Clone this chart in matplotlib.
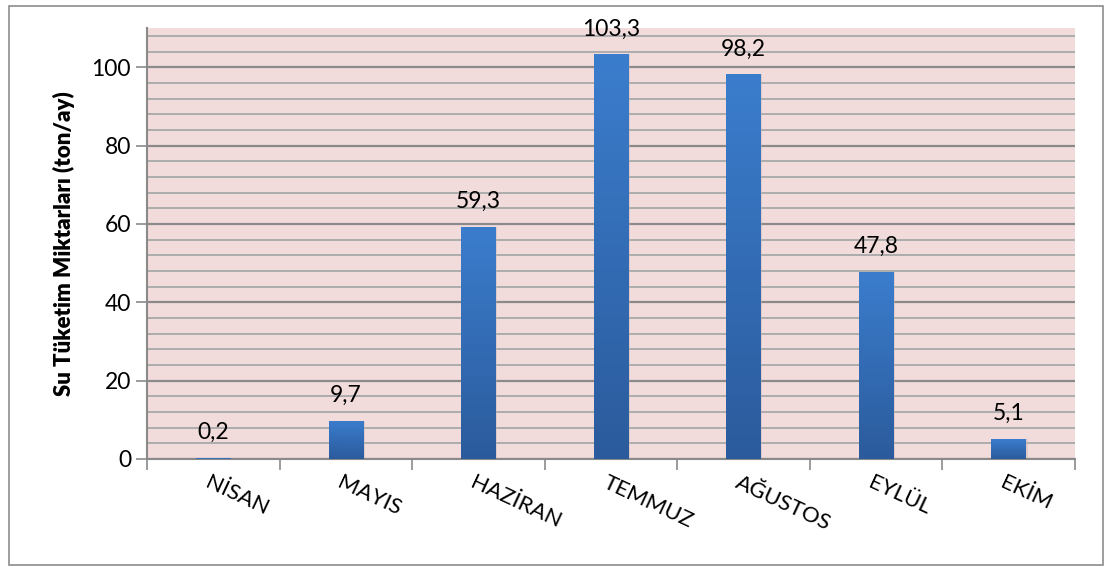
import numpy as np
import matplotlib.pyplot as plt
from matplotlib.patches import Rectangle
from matplotlib.ticker import MultipleLocator
from matplotlib.colors import LinearSegmentedColormap

months = ['NİSAN', 'MAYIS', 'HAZİRAN', 'TEMMUZ', 'AĞUSTOS', 'EYLÜL', 'EKİM']
values = [0.2, 9.7, 59.3, 103.3, 98.2, 47.8, 5.1]
labels = ['0,2', '9,7', '59,3', '103,3', '98,2', '47,8', '5,1']

plt.rcParams['font.family'] = ['Lato', 'DejaVu Sans']

fig = plt.figure(figsize=(11.12, 5.72), dpi=100)
fig.patches.append(Rectangle((0.008, 0.012), 0.984, 0.978, transform=fig.transFigure,
                             fill=False, edgecolor='#8c8c8c', linewidth=1.2))
ax = fig.add_axes([0.1322, 0.1976, 0.8345, 0.7534])
ax.set_facecolor('#f2dcdb')

x = np.arange(len(months))
bars = ax.bar(x, values, width=0.26, color='#3a78c6', zorder=3)
ax.set_xlim(-0.5, len(months) - 0.5)
ax.set_ylim(0, 110)

# gradient fill
grad = np.linspace(0, 1, 256).reshape(-1, 1)
cmap = LinearSegmentedColormap.from_list('g', ['#2b5b9c', '#3b7dcd'])
for b in bars:
    bx, bw, bh = b.get_x(), b.get_width(), b.get_height()
    # shadow
    ax.add_patch(Rectangle((bx + 0.012, 0), bw, bh, color='#c9b5b5', alpha=0.45,
                           linewidth=0, zorder=2))
    im = ax.imshow(grad, extent=[bx, bx + bw, 0, bh], origin='lower', cmap=cmap,
                   aspect='auto', zorder=3)
    b.set_alpha(0)
    im.set_clip_path(b)

for xi, v, lab in zip(x, values, labels):
    ax.text(xi, v + 3.8, lab, ha='center', va='bottom', fontsize=16.5)

ax.yaxis.set_major_locator(MultipleLocator(20))
ax.yaxis.set_minor_locator(MultipleLocator(4))
ax.grid(which='major', axis='y', color='#8a8a8a', linewidth=1.6, zorder=1)
ax.grid(which='minor', axis='y', color='#acacac', linewidth=1.4, zorder=1)
ax.set_axisbelow(True)

ax.set_xticks(np.arange(-0.5, len(months) + 0.5, 1))
ax.set_xticklabels([])
ax.tick_params(axis='x', length=8, color='#8a8a8a', width=1.2)
ax.tick_params(axis='y', which='major', length=8, color='#8a8a8a', width=1.2, labelsize=16.5)
ax.tick_params(axis='y', which='minor', length=0)

for i, m in enumerate(months):
    ax.text(i - 0.02, -3.5, m, rotation=-25, rotation_mode='anchor', ha='left', va='top',
            fontsize=16)

for s in ['top', 'right']:
    ax.spines[s].set_visible(False)
ax.spines['left'].set_color('#8a8a8a')
ax.spines['bottom'].set_color('#8a8a8a')
ax.spines['left'].set_linewidth(1.5)
ax.spines['bottom'].set_linewidth(1.5)

ax.set_ylabel('Su Tüketim Miktarları (ton/ay)', fontsize=16, fontweight='heavy', labelpad=12)

fig.savefig('out.png', dpi=100)
